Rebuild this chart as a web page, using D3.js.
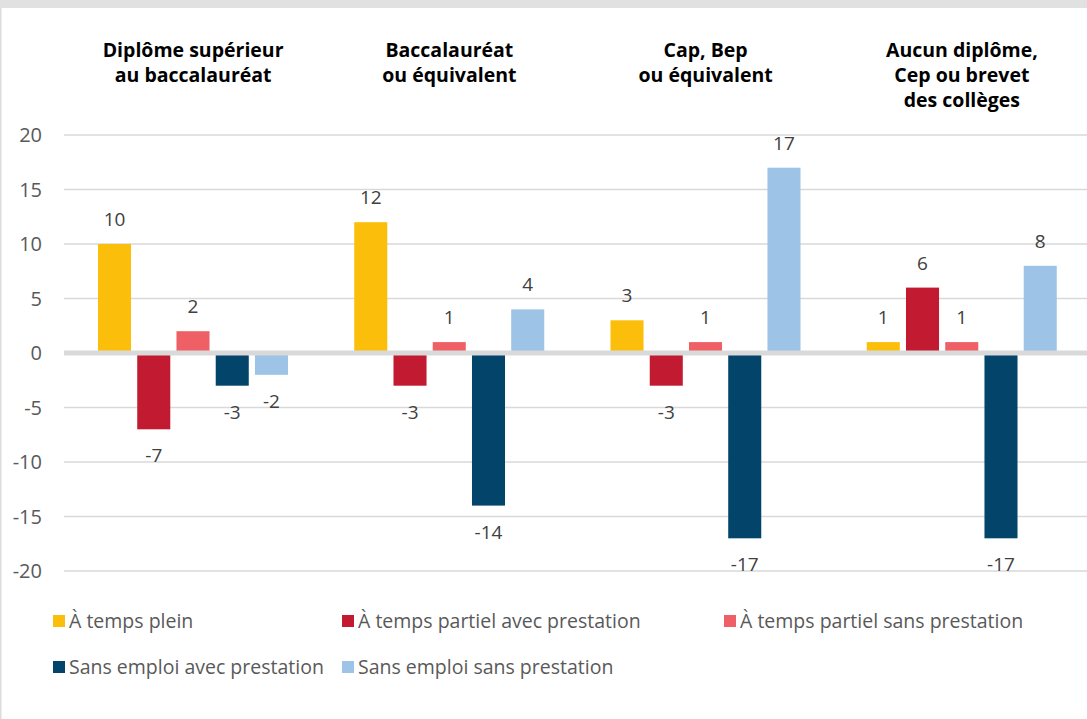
<!DOCTYPE html>
<html>
<head>
  <meta charset="utf-8">
  <script src="https://d3js.org/d3.v7.min.js"></script>
  <style>
    body { margin: 0; background: #fff; }
    svg { display: block; font-family: "Open Sans", sans-serif; }
  </style>
</head>
<body>
  <svg class="chart"></svg>
  <script>
      // Constants
      const WIDTH  = 1087;
      const HEIGHT = 719;

      // data
      const categories = [
        ["Diplôme supérieur", "au baccalauréat"],
        ["Baccalauréat", "ou équivalent"],
        ["Cap, Bep", "ou équivalent"],
        ["Aucun diplôme,", "Cep ou brevet", "des collèges"]
      ];
      const seriesNames = [
        "À temps plein",
        "À temps partiel avec prestation",
        "À temps partiel sans prestation",
        "Sans emploi avec prestation",
        "Sans emploi sans prestation"
      ];
      const tempsPlein        = [10, 12, 3, 1];
      const partielAvec       = [-7, -3, -3, 6];
      const partielSans       = [2, 1, 1, 1];
      const sansEmploiAvec    = [-3, -14, -17, -17];
      const sansEmploiSans    = [-2, 4, 17, 8];
      const yTicks            = [20, 15, 10, 5, 0, -5, -10, -15, -20];
      const colors = ["#fbbf0b", "#c21a30", "#ee6065", "#03446a", "#9dc3e6"];

      const seriesValues = [tempsPlein, partielAvec, partielSans, sansEmploiAvec, sansEmploiSans];

      const svg = d3.select(".chart").attr("width", WIDTH).attr("height", HEIGHT);

      // frame: top grey band + left edge
      svg.append("rect").attr("x", 0).attr("y", 0).attr("width", WIDTH).attr("height", 8).attr("fill", "#e1e1e1");
      svg.append("rect").attr("x", 0).attr("y", 8).attr("width", 1.5).attr("height", HEIGHT - 8).attr("fill", "#dcdcdc");

      const catIdx = d3.range(categories.length);
      const x0 = d3.scaleBand().domain(catIdx).range([65, 1090]);
      const x1 = d3.scaleBand().domain(d3.range(seriesNames.length)).range([33, 223]).paddingInner(0.158);
      const y  = d3.scaleLinear().domain([-20, 20]).range([571, 135]);

      // gridlines
      svg.append("g").selectAll("line").data(yTicks.filter(d => d !== 0)).join("line")
        .attr("x1", 64).attr("x2", WIDTH)
        .attr("y1", d => y(d)).attr("y2", d => y(d))
        .attr("stroke", "#d9d9d9").attr("stroke-width", 1.4);

      // y tick labels
      svg.append("g").selectAll("text").data(yTicks).join("text")
        .attr("x", 42).attr("y", d => y(d)).attr("dy", "0.35em")
        .attr("text-anchor", "end")
        .attr("font-size", 20).attr("fill", "#595959")
        .text(d => d);

      // category titles
      const titles = svg.append("g").selectAll("text").data(categories).join("text")
        .attr("text-anchor", "middle")
        .attr("font-size", 19.5).attr("font-weight", "bold").attr("fill", "#000");
      titles.each(function (lines, i) {
        d3.select(this).selectAll("tspan").data(lines).join("tspan")
          .attr("x", x0(i) + x0.bandwidth() / 2)
          .attr("y", (d, j) => 57 + j * 25)
          .text(d => d);
      });

      // bars
      const groups = svg.append("g").selectAll("g").data(catIdx).join("g")
        .attr("transform", i => `translate(${x0(i)},0)`);

      const cells = groups.selectAll("g").data(i => seriesValues.map((vals, s) => ({ s: s, v: vals[i] }))).join("g");

      cells.append("rect")
        .attr("x", d => x1(d.s))
        .attr("width", x1.bandwidth())
        .attr("y", d => d.v >= 0 ? y(d.v) : y(0))
        .attr("height", d => Math.abs(y(d.v) - y(0)))
        .attr("fill", d => colors[d.s]);

      cells.append("text")
        .attr("x", d => x1(d.s) + x1.bandwidth() / 2)
        .attr("y", d => d.v >= 0 ? y(d.v) - 18 : y(d.v) + 33)
        .attr("text-anchor", "middle")
        .attr("font-size", 19).attr("fill", "#404040")
        .text(d => d.v);

      // zero line
      svg.append("line")
        .attr("x1", 64).attr("x2", WIDTH)
        .attr("y1", y(0)).attr("y2", y(0))
        .attr("stroke", "#d9d9d9").attr("stroke-width", 5);

      // legend
      const legendPos = [[53, 621], [342, 621], [724, 621], [53, 667], [342, 667]];
      const legend = svg.append("g").selectAll("g").data(seriesNames).join("g")
        .attr("transform", (d, i) => `translate(${legendPos[i][0]},${legendPos[i][1]})`);
      legend.append("rect")
        .attr("x", 0).attr("y", -6).attr("width", 12).attr("height", 12)
        .attr("fill", (d, i) => colors[i]);
      legend.append("text")
        .attr("x", 16).attr("y", 0).attr("dy", "0.35em")
        .attr("font-size", 19.5).attr("fill", "#595959")
        .text(d => d);
  </script>
</body>
</html>
